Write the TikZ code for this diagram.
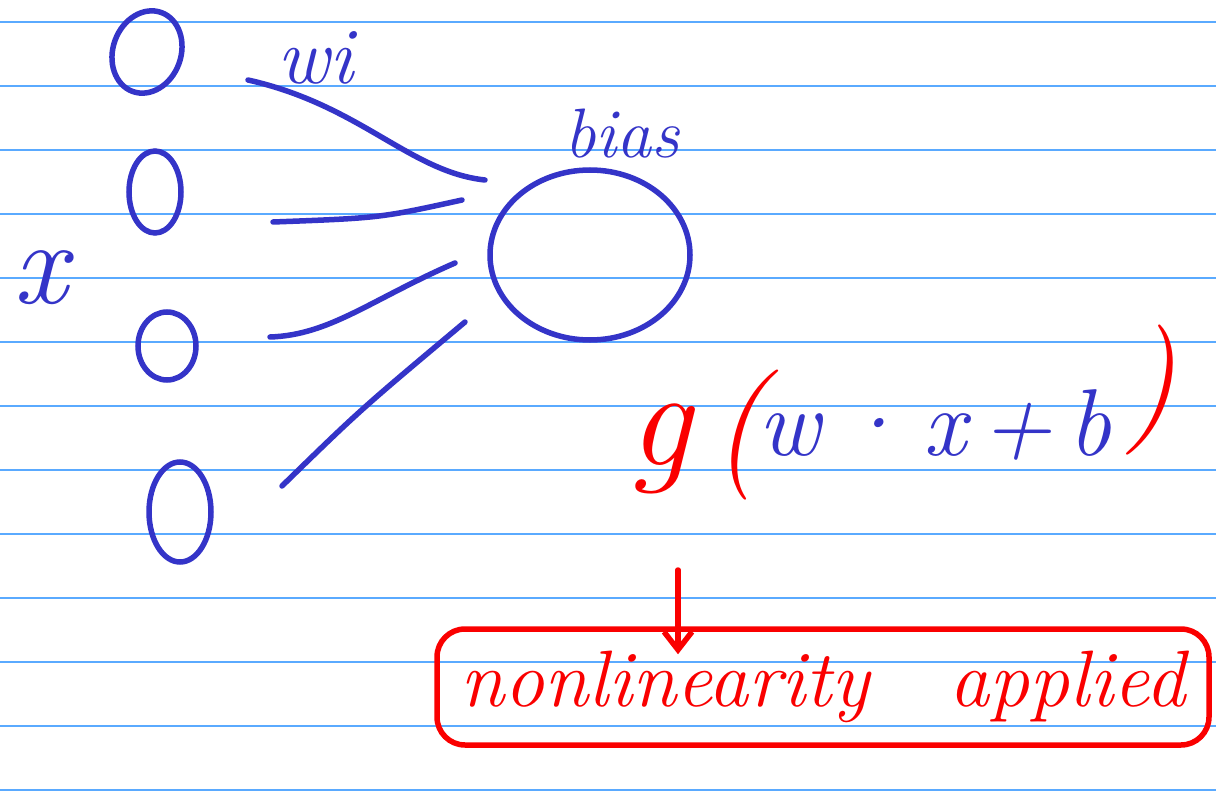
\documentclass[tikz,border=0pt]{standalone}
\usepackage{fontspec}
\usetikzlibrary{shapes.geometric,arrows.meta}
\definecolor{inkblue}{RGB}{52,52,200}
\definecolor{inkred}{RGB}{250,0,0}
\definecolor{ruling}{RGB}{90,170,255}
\newcommand{\handsize}[1]{\fontsize{#1}{#1}\selectfont\itshape}

\begin{document}
\begin{tikzpicture}[
    x=1pt, y=-1pt,
    ink/.style={draw=inkblue, line width=5.5pt, line cap=round},
    redink/.style={draw=inkred, line width=5.5pt, line cap=round},
    unit/.style={ellipse, ink, inner sep=0pt},
    blueword/.style={text=inkblue, inner sep=0pt},
    redword/.style={text=inkred, inner sep=0pt}
]
  \useasboundingbox[fill=white] (0,0) rectangle (1216,797);
  % Ruled paper.
  \foreach \y in {22,86,...,790} {
    \draw[ruling, line width=2pt] (0,\y) -- (1216,\y);
  }
  % Inputs and the neuron.
  \node[unit, minimum width=68pt, minimum height=84pt, rotate=-20] (in1) at (147,52) {};
  \node[unit, minimum width=52pt, minimum height=82pt] (in2) at (155,192) {};
  \node[unit, minimum width=58pt, minimum height=68pt] (in3) at (167,346) {};
  \node[unit, minimum width=62pt, minimum height=100pt] (in4) at (180,512) {};
  \node[unit, minimum width=200pt, minimum height=170pt] (neuron) at (590,255) {};
  \node[blueword, anchor=base] (xlabel) at (40,303) {\handsize{120}x};
  \node[blueword, anchor=base] (wlabel) at (315,84) {\handsize{80}wi};
  \node[blueword, anchor=base] (biaslabel) at (622,158) {\handsize{70}bias};
  % Weights, loose ends between the inputs and the neuron.
  \coordinate (w1a) at (248,80);  \coordinate (w1b) at (485,180);
  \coordinate (w2a) at (273,222); \coordinate (w2b) at (462,200);
  \coordinate (w3a) at (270,337); \coordinate (w3b) at (455,263);
  \coordinate (w4a) at (282,486); \coordinate (w4b) at (465,322);
  \draw[ink] (w1a) .. controls (360,105) and (410,172) .. (w1b);
  \draw[ink] (w2a) .. controls (380,218) .. (w2b);
  \draw[ink] (w3a) .. controls (330,335) and (370,300) .. (w3b);
  \draw[ink] (w4a) .. controls (360,410) .. (w4b);
  % Activation.
  \node[redword, anchor=base] (gfun) at (660,465) {\handsize{140}g};
  \node[redword, anchor=base] (lparen) at (738,467) {\handsize{130}(};
  \node[blueword, anchor=base] (affine) at (935,455) {\handsize{95}w\,·\,x\,+\,b};
  \node[redword, anchor=base] (rparen) at (1150,422) {\handsize{130})};
  \node[redword, redink, rounded corners=28pt, minimum width=772pt, minimum height=116pt,
    inner sep=0pt] (nonlin) at (823,687) {\handsize{80}nonlinearity\quad applied};
  \coordinate (arrtop) at (678,570);
  \draw[redink, -{Straight Barb[length=18pt, width=28pt]}] (arrtop) -- ([yshift=-28pt]arrtop |- nonlin.north);
\end{tikzpicture}
\end{document}
